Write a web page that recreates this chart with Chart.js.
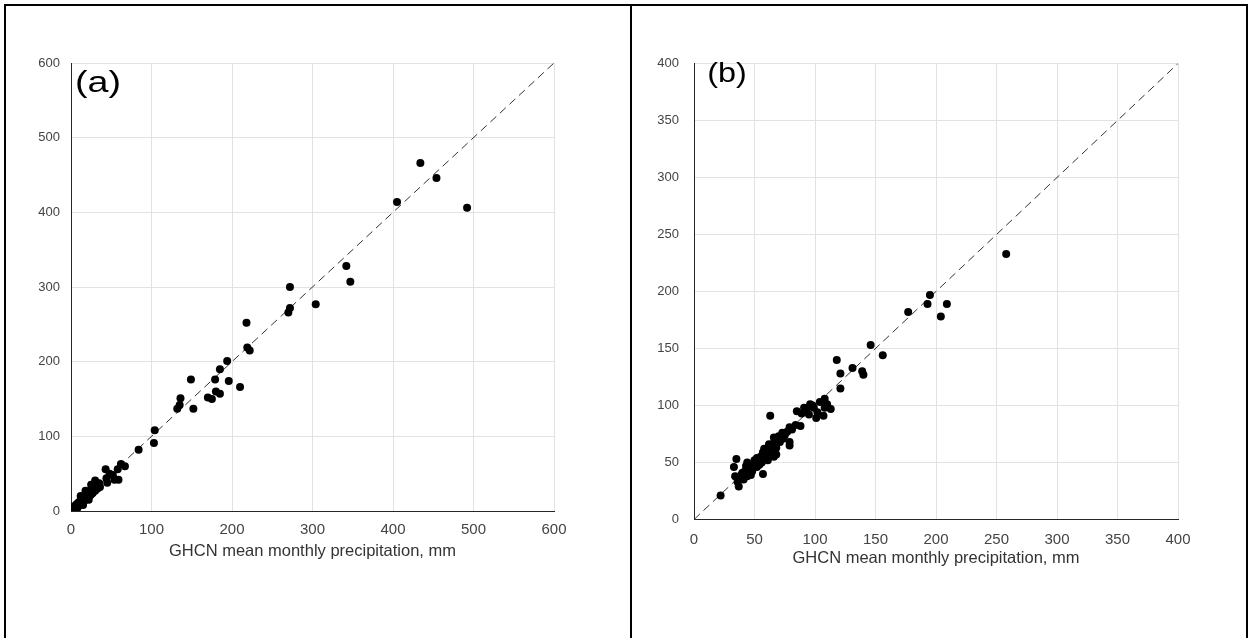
<!DOCTYPE html>
<html>
<head>
<meta charset="utf-8">
<script src="https://cdn.jsdelivr.net/npm/chart.js@4"></script>
<style>
  body { margin: 0; background: #fff; }
  #page { position: relative; width: 1252px; height: 638px; overflow: hidden; }
  .rule { position: absolute; background: #000; }
  .cell { position: absolute; }
</style>
</head>
<body>
<div id="page">
  <div class="rule" style="left:4px;top:4px;width:1244px;height:2px"></div>
  <div class="rule" style="left:4px;top:4px;width:2px;height:640px"></div>
  <div class="rule" style="left:630px;top:4px;width:2px;height:640px"></div>
  <div class="rule" style="left:1246px;top:4px;width:2px;height:640px"></div>
  <div class="cell" style="left:10px;top:10px;width:610px;height:620px"><canvas id="chartA" width="610" height="620"></canvas></div>
  <div class="cell" style="left:636px;top:10px;width:608px;height:620px"><canvas id="chartB" width="608" height="620"></canvas></div>
</div>
<script>
// Panel (a): GHCN vs estimate, mm
const pointsA = [
  [434, 466], [454, 446], [405, 414], [492, 406], [342, 328], [347, 307],
  [272, 300], [304, 277], [272, 272], [270, 266], [218, 252], [219, 219],
  [222, 215], [194, 201], [185, 190], [179, 176], [149, 176], [196, 174],
  [210, 166], [180, 160], [185, 157], [170, 152], [175, 150], [136, 151],
  [135, 142], [132, 137], [152, 137], [104, 108], [103, 91], [84, 82],
  [67, 60], [62, 63], [58, 56], [59, 42], [43, 56], [48, 50], [45, 38],
  [30, 41], [36, 32], [52, 48], [54, 42], [44, 44], [32, 33],
  [1, 2], [2, 4], [3, 1], [4, 6], [5, 3], [6, 8], [7, 5], [8, 10], [9, 7],
  [10, 12], [11, 9], [12, 14], [13, 11], [14, 16], [15, 12], [16, 18],
  [17, 14], [18, 21], [19, 16], [20, 22], [21, 18], [22, 25], [23, 20],
  [24, 27], [25, 22], [26, 29], [27, 24], [28, 31], [30, 27], [31, 34],
  [33, 30], [35, 37], [12, 20], [18, 27], [25, 35], [8, 4], [15, 8], [22, 15]
];
// Panel (b)
const pointsB = [
  [258, 233], [195, 197], [193, 189], [209, 189], [177, 182], [204, 178],
  [146, 153], [156, 144], [118, 140], [131, 133], [121, 128], [139, 130],
  [140, 127], [121, 115], [108, 106], [104, 103], [113, 97], [108, 98],
  [96, 101], [91, 98], [99, 98], [89, 93], [95, 92], [101, 89], [107, 91],
  [63, 91], [88, 82], [84, 83], [79, 81], [77, 77], [73, 76], [66, 72],
  [70, 73], [79, 68], [79, 65], [74, 71], [66, 67], [68, 63], [63, 60],
  [59, 60], [57, 59], [60, 57], [55, 55], [57, 53], [61, 55], [66, 55],
  [53, 51], [50, 49], [48, 48], [52, 46], [45, 45], [48, 42], [42, 42],
  [39, 39], [44, 38], [38, 36], [41, 35], [35, 53], [33, 46], [57, 40],
  [37, 36], [37, 29], [22, 21], [52, 54], [63, 58], [67, 64],
  [85, 95], [93, 96], [98, 100], [102, 94], [110, 101], [71, 68], [75, 74],
  [81, 79], [64, 62], [61, 52], [54, 48], [46, 44], [40, 41], [43, 47],
  [50, 52], [56, 50], [47, 39], [36, 33], [34, 38], [58, 62], [62, 66],
  [70, 70], [68, 57], [44, 50], [49, 45]
];
const ticksA = [0, 100, 200, 300, 400, 500, 600];
const ticksB = [0, 50, 100, 150, 200, 250, 300, 350, 400];
const xTitle = "GHCN mean monthly precipitation, mm";

const panelLabel = {
  id: "panelLabel",
  afterDraw(chart, args, opts) {
    const ctx = chart.ctx;
    const px = chart.scales.x.getPixelForValue(opts.at[0]);
    const py = chart.scales.y.getPixelForValue(opts.at[1]);
    ctx.save();
    ctx.translate(px, py);
    ctx.scale(opts.stretch, 1);
    ctx.font = opts.size + "px 'Liberation Sans', Arial, sans-serif";
    ctx.fillStyle = "#000";
    ctx.textBaseline = "middle";
    ctx.textAlign = "left";
    ctx.fillText(opts.text, 0, 0);
    ctx.restore();
  }
};

function makeChart(id, pts, ticks, max, box) {
  new Chart(document.getElementById(id), {
    type: "scatter",
    data: {
      datasets: [
        {
          data: pts.map(p => ({ x: p[0], y: p[1] })),
          backgroundColor: "#000",
          borderWidth: 0,
          pointRadius: 4
        },
        {
          type: "line",
          data: [{ x: 0, y: 0 }, { x: max, y: max }],
          borderColor: "#333",
          borderWidth: 1,
          borderDash: [8, 5],
          pointRadius: 0,
          fill: false
        }
      ]
    },
    options: {
      responsive: false,
      animation: false,
      layout: { padding: { top: box.top, right: box.right, left: 0, bottom: 0 } },
      plugins: {
        legend: { display: false },
        tooltip: { enabled: false },
        panelLabel: box.label
      },
      scales: {
        x: {
          type: "linear", min: 0, max: max,
          afterBuildTicks: s => { s.ticks = ticks.map(v => ({ value: v })); },
          afterFit: s => { s.height = box.xh; },
          grid: { color: "#e2e2e2", drawTicks: false },
          border: { color: "#262626", width: 1 },
          ticks: { padding: box.xpad, color: "#444", font: { family: "'Liberation Sans', Arial", size: 15 } },
          title: {
            display: true, text: xTitle, color: "#333",
            font: { family: "'Liberation Sans', Arial", size: 16.5 },
            padding: { top: 0, bottom: box.tpad }
          }
        },
        y: {
          type: "linear", min: 0, max: max,
          afterBuildTicks: s => { s.ticks = ticks.map(v => ({ value: v })); },
          afterFit: s => { s.width = box.yw; },
          grid: { color: "#e2e2e2", drawTicks: false },
          border: { color: "#262626", width: 1 },
          ticks: { padding: box.ypad, color: "#444", font: { family: "'Liberation Sans', Arial", size: 13 } }
        }
      }
    },
    plugins: [panelLabel]
  });
}

makeChart("chartA", pointsA, ticksA, 600,
  { top: 53, right: 66, yw: 61, xh: 119, xpad: 10, ypad: 11, tpad: 69,
    label: { text: "(a)", at: [5, 572], size: 29, stretch: 1.3 } });
makeChart("chartB", pointsB, ticksB, 400,
  { top: 53.5, right: 66, yw: 58, xh: 110.5, xpad: 11, ypad: 15, tpad: 62,
    label: { text: "(b)", at: [11, 390], size: 27, stretch: 1.2 } });
</script>
</body>
</html>
